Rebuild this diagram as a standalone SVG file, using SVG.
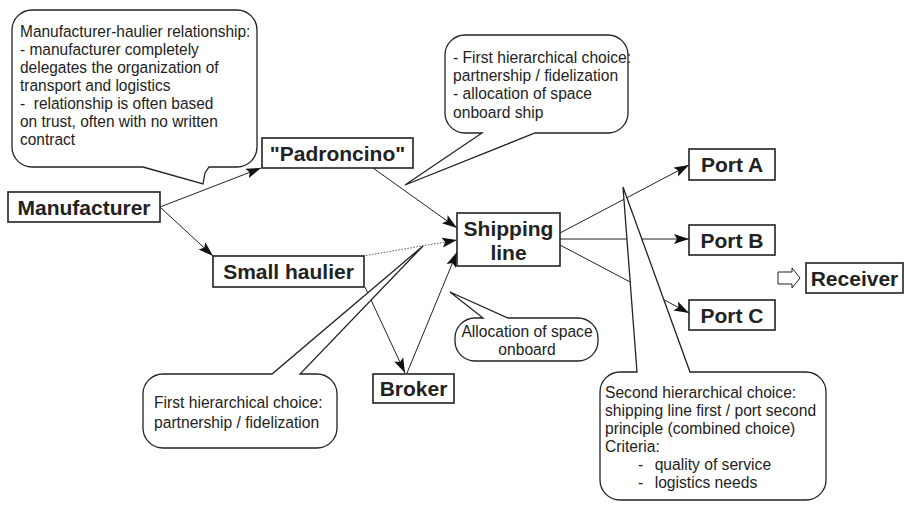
<svg xmlns="http://www.w3.org/2000/svg" width="904" height="506" viewBox="0 0 904 506">
<defs>
<marker id="ah" markerUnits="userSpaceOnUse" markerWidth="16" markerHeight="12" refX="15" refY="5" orient="auto">
<path d="M0,0 L15,5 L0,10 L3,5 Z" fill="#111"/>
</marker>
<style>
.box{fill:#fff;stroke:#222;stroke-width:1.6}
.lbl{font-family:"Liberation Sans",Arial,sans-serif;font-weight:bold;font-size:21px;fill:#222;text-anchor:middle}
.con{fill:none;stroke:#222;stroke-width:1}
.dot{fill:none;stroke:#555;stroke-width:1;stroke-dasharray:1.5,1.5}
.bub{fill:#fff;stroke:#222;stroke-width:1.3}
.ct{font-family:"Liberation Sans",Arial,sans-serif;font-size:17px;fill:#222}
.mid{text-anchor:middle}
</style>
</defs>
<rect width="904" height="506" fill="#fff"/>
<g id="connectors">
<line class="con" x1="160" y1="207" x2="261" y2="168" marker-end="url(#ah)"/>
<line class="con" x1="160" y1="207" x2="213" y2="256" marker-end="url(#ah)"/>
<line class="con" x1="373" y1="168" x2="457" y2="228" marker-end="url(#ah)"/>
<line class="dot" x1="363" y1="256" x2="457" y2="240" marker-end="url(#ah)"/>
<line class="con" x1="407" y1="373" x2="457" y2="252" marker-end="url(#ah)"/>
<line class="con" x1="365" y1="287" x2="405" y2="373" marker-end="url(#ah)"/>
<line class="con" x1="560" y1="233" x2="689" y2="165" marker-end="url(#ah)"/>
<line class="con" x1="560" y1="239" x2="689" y2="239" marker-end="url(#ah)"/>
<line class="con" x1="560" y1="245" x2="689" y2="313" marker-end="url(#ah)"/>
<polygon points="778,272 792,272 792,268 800,278 792,288 792,284 778,284" fill="#fff" stroke="#222" stroke-width="1"/>
</g>
<g id="callout-manufacturer-haulier">
<path class="bub" d="M32,10 H237 A20,20 0 0 1 257,30 V147 A20,20 0 0 1 237,167 H209 L205,173 L203,184 L143,167 H32 A20,20 0 0 1 12,147 V30 A20,20 0 0 1 32,10 Z"/>
<g transform="translate(20,0) scale(0.91,1)">
<text class="ct" x="0" y="37">Manufacturer-haulier relationship:</text>
<text class="ct" x="0" y="55">- manufacturer completely</text>
<text class="ct" x="0" y="73">delegates the organization of</text>
<text class="ct" x="0" y="91">transport and logistics</text>
<text class="ct" x="0" y="109" xml:space="preserve">-  relationship is often based</text>
<text class="ct" x="0" y="127">on trust, often with no written</text>
<text class="ct" x="0" y="145">contract</text>
</g>
</g>
<g id="callout-first-choice-top">
<path class="bub" d="M465,35 H608 A20,20 0 0 1 628,55 V113 A20,20 0 0 1 608,133 H535 L405,185 L482,133 H465 A20,20 0 0 1 445,113 V55 A20,20 0 0 1 465,35 Z"/>
<g transform="translate(453,0) scale(0.92,1)">
<text class="ct" x="0" y="63">- First hierarchical choice:</text>
<text class="ct" x="0" y="81">partnership / fidelization</text>
<text class="ct" x="0" y="99">- allocation of space</text>
<text class="ct" x="0" y="118">onboard ship</text>
</g>
</g>
<g id="callout-second-choice">
<path class="bub" d="M620,372 H637 L623,187 L690,372 H806 A20,20 0 0 1 826,392 V480 A20,20 0 0 1 806,500 H620 A20,20 0 0 1 600,480 V392 A20,20 0 0 1 620,372 Z"/>
<g transform="translate(605,0) scale(0.92,1)">
<text class="ct" x="0" y="398">Second hierarchical choice:</text>
<text class="ct" x="0" y="416">shipping line first / port second</text>
<text class="ct" x="0" y="434">principle (combined choice)</text>
<text class="ct" x="0" y="452">Criteria:</text>
<text class="ct" x="36" y="470">-</text>
<text class="ct" x="54" y="470">quality of service</text>
<text class="ct" x="36" y="488">-</text>
<text class="ct" x="54" y="488">logistics needs</text>
</g>
</g>
<g id="callout-allocation">
<path class="bub" d="M475,318 H483 L450,292 L508,318 H578 A20,20 0 0 1 598,338 V341 A20,20 0 0 1 578,361 H475 A20,20 0 0 1 455,341 V338 A20,20 0 0 1 475,318 Z"/>
<g transform="translate(527,0) scale(0.92,1)">
<text class="ct mid" x="0" y="337">Allocation of space</text>
<text class="ct mid" x="0" y="355">onboard</text>
</g>
</g>
<g id="callout-first-choice-bottom">
<path class="bub" d="M163,374 H272 L423,246 L300,374 H317 A20,20 0 0 1 337,394 V428 A20,20 0 0 1 317,448 H163 A20,20 0 0 1 143,428 V394 A20,20 0 0 1 163,374 Z"/>
<g transform="translate(154,0) scale(0.92,1)">
<text class="ct" x="0" y="408">First hierarchical choice:</text>
<text class="ct" x="0" y="428">partnership / fidelization</text>
</g>
</g>
<g id="manufacturer"><rect class="box" x="8" y="192" width="152" height="30"/><text class="lbl" x="84" y="215">Manufacturer</text></g>
<g id="padroncino"><rect class="box" x="262" y="138" width="151" height="30"/><text class="lbl" x="337.5" y="161">"Padroncino"</text></g>
<g id="small-haulier"><rect class="box" x="213" y="256" width="151" height="31"/><text class="lbl" x="288.5" y="279">Small haulier</text></g>
<g id="shipping-line"><rect class="box" x="457" y="213" width="103" height="53"/><text class="lbl" x="508.5" y="236">Shipping</text><text class="lbl" x="508.5" y="260">line</text></g>
<g id="broker"><rect class="box" x="373" y="374" width="81" height="29"/><text class="lbl" x="413.5" y="396">Broker</text></g>
<g id="port-a"><rect class="box" x="689" y="149" width="86" height="31"/><text class="lbl" x="732" y="172">Port A</text></g>
<g id="port-b"><rect class="box" x="689" y="225" width="86" height="30"/><text class="lbl" x="732" y="248">Port B</text></g>
<g id="port-c"><rect class="box" x="689" y="300" width="86" height="30"/><text class="lbl" x="732" y="323">Port C</text></g>
<g id="receiver"><rect class="box" x="806" y="263" width="97" height="30"/><text class="lbl" x="854.5" y="286">Receiver</text></g>
</svg>
